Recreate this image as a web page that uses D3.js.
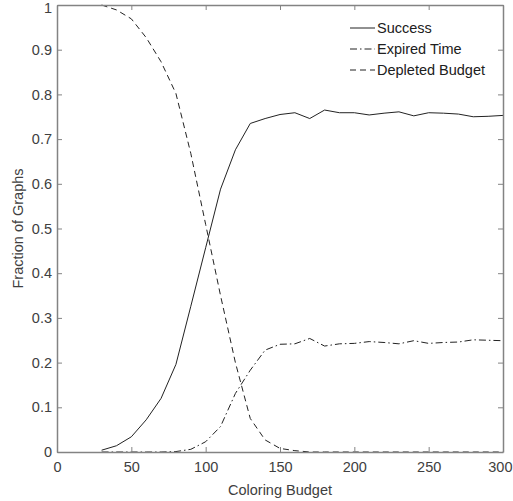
<!DOCTYPE html>
<html><head><meta charset="utf-8">
<script src="https://cdn.jsdelivr.net/npm/d3@7/dist/d3.min.js"></script>
<style>body{margin:0;background:#fff}svg{display:block}</style>
</head><body>
<svg id="c" width="513" height="501"></svg>
<script>
const budget = [30,40,50,60,70,80,90,100,110,120,130,140,150,160,170,180,190,200,210,220,230,240,250,260,270,280,290,300];
const success = [0.004,0.014,0.034,0.072,0.12,0.196,0.326,0.457,0.588,0.676,0.735,0.746,0.755,0.759,0.746,0.765,0.759,0.759,0.754,0.758,0.761,0.752,0.759,0.758,0.756,0.750,0.751,0.753];
const expired = [0,0,0,0,0,0.001,0.006,0.023,0.057,0.131,0.183,0.228,0.241,0.242,0.254,0.237,0.242,0.243,0.247,0.245,0.242,0.249,0.243,0.245,0.246,0.251,0.250,0.249];
const depleted = [1.0,0.989,0.969,0.927,0.873,0.802,0.668,0.509,0.35,0.2,0.075,0.027,0.008,0.003,0,0,0,0,0,0,0,0,0,0,0,0,0,0];
const xTicks = [0,50,100,150,200,250,300];
const yTicks = [0,0.1,0.2,0.3,0.4,0.5,0.6,0.7,0.8,0.9,1];
const seriesNames = ["Success","Expired Time","Depleted Budget"];

const svg = d3.select("#c");
const L=57,R=503,T=5,B=452;
const x = d3.scaleLinear().domain([0,300]).range([L,R]);
const y = d3.scaleLinear().domain([0,1]).range([B,T]);
const axisCol="#838383", textCol="#404040", font="Liberation Sans, Arial, Helvetica, sans-serif", fs="14.5px";

const series = [
  {name:seriesNames[0], vals:success, dash:null},
  {name:seriesNames[1], vals:expired, dash:"7,3,1.5,3"},
  {name:seriesNames[2], vals:depleted, dash:"6,4"}
];
const line = d3.line().x((d,i)=>x(budget[i])).y(d=>y(d));
const g = svg.append("g");
g.selectAll("path.s").data(series).join("path")
  .attr("fill","none").attr("stroke","#222").attr("stroke-width",1)
  .attr("stroke-dasharray",d=>d.dash).attr("d",d=>line(d.vals));

// axes (inward ticks, box)
const ax = [
  {a:d3.axisBottom(x).tickValues(xTicks).tickSizeInner(-5).tickSizeOuter(0).tickPadding(10).tickFormat(d3.format("d")), t:`translate(0,${B})`},
  {a:d3.axisTop(x).tickValues(xTicks).tickSizeInner(-5).tickSizeOuter(0).tickFormat(""), t:`translate(0,${T})`},
  {a:d3.axisLeft(y).tickValues(yTicks).tickSizeInner(-5).tickSizeOuter(0).tickPadding(5).tickFormat(d=>d3.format("")(+d.toFixed(1))), t:`translate(${L},0)`},
  {a:d3.axisRight(y).tickValues(yTicks).tickSizeInner(-5).tickSizeOuter(0).tickFormat(""), t:`translate(${R},0)`}
];
ax.forEach(o=>{
  const s = svg.append("g").attr("transform",o.t).call(o.a);
  s.select(".domain").attr("stroke",axisCol).attr("stroke-width",1.5);
  s.selectAll(".tick line").attr("stroke",axisCol);
  s.selectAll(".tick text").attr("fill",textCol).style("font-family",font).style("font-size",fs);
});
// keep edge labels inside the canvas
svg.selectAll(".tick text").filter(function(){return this.textContent==="1";}).attr("dy","0.55em");
svg.selectAll(".tick text").filter(function(){return this.textContent==="300";}).attr("text-anchor","end").attr("x",9);

svg.append("text").attr("x",(L+R)/2).attr("y",495).attr("text-anchor","middle")
  .attr("fill",textCol).style("font-family",font).style("font-size",fs).text("Coloring Budget");
svg.append("text").attr("transform",`translate(23,${(T+B)/2}) rotate(-90)`).attr("text-anchor","middle")
  .attr("fill",textCol).style("font-family",font).style("font-size",fs).text("Fraction of Graphs");

// legend
const leg = svg.append("g");
series.forEach((s,i)=>{
  const yy = 28 + i*21;
  leg.append("line").attr("x1",350).attr("x2",375).attr("y1",yy).attr("y2",yy)
    .attr("stroke","#222").attr("stroke-width",1).attr("stroke-dasharray",s.dash);
  leg.append("text").attr("x",377).attr("y",yy).attr("dy","0.35em")
    .attr("fill","#202020").style("font-family",font).style("font-size",fs).text(s.name);
});
</script>
</body></html>
